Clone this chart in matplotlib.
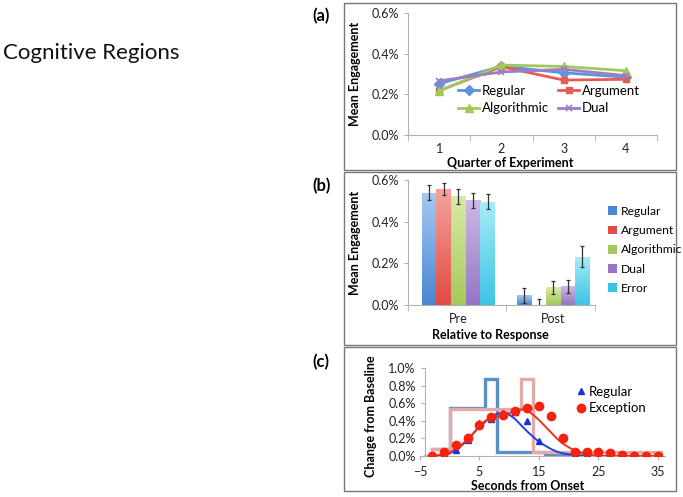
import numpy as np
import matplotlib
matplotlib.use("Agg")
import matplotlib.pyplot as plt
from matplotlib.patches import Rectangle, Patch
from matplotlib.colors import to_rgb

plt.rcParams['font.family'] = ['Lato', 'DejaVu Sans']

# ---- panel (a): mean engagement by quarter ----
quarters = [1, 2, 3, 4]
a_regular = [0.252, 0.338, 0.306, 0.284]
a_argument = [0.218, 0.336, 0.270, 0.274]
a_algorithmic = [0.216, 0.344, 0.337, 0.316]
a_dual = [0.266, 0.310, 0.323, 0.292]

# ---- panel (b): pre/post response ----
b_groups = ['Pre', 'Post']
b_names = ['Regular', 'Argument', 'Algorithmic', 'Dual', 'Error']
b_values = {
    'Regular': [0.539, 0.046],
    'Argument': [0.556, 0.0],
    'Algorithmic': [0.522, 0.086],
    'Dual': [0.503, 0.090],
    'Error': [0.496, 0.232],
}
b_errors = {
    'Regular': [0.036, 0.036],
    'Argument': [0.030, 0.028],
    'Algorithmic': [0.036, 0.031],
    'Dual': [0.036, 0.032],
    'Error': [0.037, 0.049],
}

# ---- panel (c): time course ----
c_x = [-3, -1, 1, 3, 5, 7, 9, 11, 13, 15, 17, 19, 21, 23, 25, 27, 29, 31, 33, 35]
c_regular = [0.0, 0.02, 0.07, 0.18, 0.37, 0.42, 0.49, 0.50, 0.40, 0.17, None, None,
             0.02, 0.02, 0.0, 0.0, None, None, None, None]
c_exception = [0.0, 0.04, 0.12, 0.21, 0.35, 0.44, 0.47, 0.51, 0.54, 0.57, 0.45, 0.21,
               0.05, 0.04, 0.04, 0.03, 0.01, 0.0, 0.0, 0.0]
fit_x = list(range(-3, 36))
fit_regular = [0.0, 0.0, 0.01, 0.03, 0.07, 0.12, 0.18, 0.26, 0.33, 0.39, 0.45, 0.48,
               0.49, 0.47, 0.42, 0.35, 0.28, 0.22, 0.16, 0.12, 0.08, 0.05, 0.03, 0.02,
               0.01, 0.0, 0.0, 0.0, 0.0, 0.0, 0.0, 0.0, 0.0, 0.0, 0.0, 0.0, 0.0, 0.0, 0.0]
fit_exception = [0.0, 0.01, 0.02, 0.04, 0.08, 0.13, 0.19, 0.26, 0.34, 0.40, 0.43, 0.45,
                 0.47, 0.49, 0.51, 0.53, 0.52, 0.47, 0.41, 0.34, 0.27, 0.20, 0.14, 0.10,
                 0.06, 0.04, 0.02, 0.01, 0.0, 0.0, 0.0, 0.0, 0.0, 0.0, 0.0, 0.0, 0.0, 0.0, 0.0]
step_reg_edges = [-3, 0, 6, 8, 16, 22]
step_reg_vals = [0.08, 0.55, 0.88, 0.05, 0.02]
step_exc_edges = [-3, 0, 12, 14, 35.5]
step_exc_vals = [0.08, 0.53, 0.88, 0.05]

W, H = 683, 497
fig = plt.figure(figsize=(W / 100, H / 100), dpi=100)

def fax(l, t, r, b):
    return fig.add_axes([l / W, 1 - b / H, (r - l) / W, (b - t) / H])

def pct(ax):
    ax.yaxis.set_major_formatter(matplotlib.ticker.FuncFormatter(lambda v, p: '%.1f%%' % v))

def style(ax):
    for s in ['top', 'right']:
        ax.spines[s].set_visible(False)
    for s in ['left', 'bottom']:
        ax.spines[s].set_color('#b0b0b0')
        ax.spines[s].set_linewidth(0.8)
    ax.tick_params(colors='#b0b0b0', labelcolor='#222222', labelsize=9, length=3, width=0.8)

fig.text(3 / W, 1 - 53 / H, 'Cognitive Regions', fontsize=16, va='center', ha='left', color='#111111')

# frames
for (t, b) in [(3, 170), (172, 345), (347, 491)]:
    fig.patches.append(Rectangle((344 / W, 1 - b / H), (676 - 344) / W, (b - t) / H,
                                 transform=fig.transFigure, fill=False, ec='#777777', lw=1.0))
for lab, y in [('(a)', 16), ('(b)', 186), ('(c)', 362)]:
    fig.text(312 / W, 1 - y / H, lab, fontsize=12, fontweight='bold', va='center', ha='left')

# ---- (a) ----
ax = fax(408, 13, 657, 135)
style(ax)
colors_a = ['#5d95d8', '#e35d56', '#a2c85a', '#9c7ec6']
l1, = ax.plot(quarters, a_regular, color=colors_a[0], marker='D', ms=5, lw=2, label='Regular')
l2, = ax.plot(quarters, a_argument, color=colors_a[1], marker='s', ms=5, lw=2, label='Argument')
l3, = ax.plot(quarters, a_algorithmic, color=colors_a[2], marker='^', ms=6, lw=2, label='Algorithmic')
l4, = ax.plot(quarters, a_dual, color=colors_a[3], marker='x', ms=5, mew=1.2, lw=2, label='Dual')
ax.set_xlim(0.5, 4.5)
ax.set_ylim(0, 0.6)
ax.set_yticks([0, 0.2, 0.4, 0.6])
pct(ax)
ax.set_xticks(quarters)
ax.set_xticks([0.5, 1.5, 2.5, 3.5, 4.5], minor=True)
ax.tick_params(axis='x', which='major', length=0, pad=6)
ax.tick_params(axis='x', which='minor', length=4, colors='#b0b0b0')
ax.set_xlabel('Quarter of Experiment', fontsize=9, fontweight='bold')
ax.xaxis.set_label_coords((510 - 408) / 249, -0.18)
ax.set_ylabel('Mean Engagement', fontsize=9, fontweight='bold')
ax.yaxis.set_label_coords((361 - 408) / 249, 0.5)
ax.legend(handles=[l1, l3, l2, l4], ncol=2, frameon=False, fontsize=9.5, handlelength=1.6,
          handletextpad=0.2, columnspacing=0.7, labelspacing=0.4, loc='center left',
          borderpad=0, borderaxespad=0, bbox_to_anchor=((458 - 408) / 249, 0.29))

# ---- (b) ----
ax = fax(408, 180, 595, 305)
style(ax)
bar_top = {'Regular': '#a4c9f2', 'Argument': '#f6a29c', 'Algorithmic': '#d8eaa6',
           'Dual': '#cdb9e6', 'Error': '#a8ecf8'}
bar_bot = {'Regular': '#4a86d2', 'Argument': '#e24a44', 'Algorithmic': '#a5c95a',
           'Dual': '#9675c4', 'Error': '#3cc4e4'}
bw = 0.154
xg = np.arange(len(b_groups))
handles = []
for i, name in enumerate(b_names):
    xs = xg + (i - 2) * bw
    bars = ax.bar(xs, b_values[name], width=bw, color=bar_bot[name], zorder=2)
    grad = np.linspace(0, 1, 64)[:, None]
    c1 = np.array(to_rgb(bar_bot[name]))
    c2 = np.array(to_rgb(bar_top[name]))
    img = c1[None, None, :] * (1 - grad[:, :, None]) + c2[None, None, :] * grad[:, :, None]
    for bar in bars:
        if bar.get_height() <= 0:
            continue
        im = ax.imshow(img, extent=[bar.get_x(), bar.get_x() + bw, 0, bar.get_height()],
                       origin='lower', aspect='auto', zorder=2.5)
        im.set_clip_path(bar)
    ax.errorbar(xs, b_values[name], yerr=b_errors[name], fmt='none', ecolor='#333333',
                elinewidth=0.9, capsize=1.5, capthick=0.9, zorder=3)
    handles.append(Patch(facecolor=bar_bot[name], label=name))
ax.set_xlim(-0.53, 1.44)
ax.set_ylim(0, 0.6)
ax.set_yticks([0, 0.2, 0.4, 0.6])
pct(ax)
ax.set_xticks(xg)
ax.set_xticklabels(b_groups)
ax.set_xticks([-0.53, 0.5, 1.44], minor=True)
ax.tick_params(axis='x', which='major', length=0, pad=6)
ax.tick_params(axis='x', which='minor', length=4, colors='#b0b0b0')
ax.set_xlabel('Relative to Response', fontsize=9, fontweight='bold')
ax.xaxis.set_label_coords((490 - 408) / 187, -0.19)
ax.set_ylabel('Mean Engagement', fontsize=9, fontweight='bold')
ax.yaxis.set_label_coords((361 - 408) / 187, 0.5)
fig.legend(handles=handles, loc='upper left', bbox_to_anchor=(608 / W, 1 - 206 / H),
           frameon=False, fontsize=8.7, handlelength=0.75, handleheight=0.75,
           handletextpad=0.35, labelspacing=0.68, borderpad=0, borderaxespad=0)

# ---- (c) ----
ax = fax(420, 368, 665, 456)
style(ax)
ax.spines['left'].set_position(('data', -4.2))
ax.stairs(step_reg_vals, step_reg_edges, color='#5b8ec6', lw=2.4, zorder=2)
ax.stairs(step_exc_vals, step_exc_edges, color='#e4aaa8', lw=2.4, zorder=2.2)
ax.plot([-4.2, -3], [0, 0], color='#e4aaa8', lw=2.4, zorder=2.2)
ax.plot(fit_x, fit_regular, color='#1f3fe0', lw=1.4, zorder=3)
ax.plot(fit_x, fit_exception, color='#f03020', lw=1.4, zorder=3.1)
ry = np.array([np.nan if v is None else v for v in c_regular], dtype=float)
ax.plot(c_x, ry, ls='none', marker='^', ms=5, color='#1a2fe0', zorder=4, label='Regular')
ax.plot(c_x, c_exception, ls='none', marker='o', ms=6, color='#f5220e', zorder=4.1,
        label='Exception')
ax.set_xlim(-5, 36.2)
ax.set_ylim(0, 1.0)
ax.set_yticks([0, 0.2, 0.4, 0.6, 0.8, 1.0])
pct(ax)
ax.set_xticks([-5, 5, 15, 25, 35])
ax.tick_params(axis='x', pad=4)
ax.set_xlabel('Seconds from Onset', fontsize=9, fontweight='bold')
ax.xaxis.set_label_coords((528 - 420) / 245, -0.27)
ax.set_ylabel('Change from Baseline', fontsize=9, fontweight='bold')
ax.yaxis.set_label_coords((377 - 420) / 245, 0.45)
ax.legend(loc='upper left', bbox_to_anchor=((577 - 420) / 245, 0.80), frameon=False,
          fontsize=9.5, handlelength=0.6, handletextpad=0.3, labelspacing=0.35,
          borderpad=0, borderaxespad=0)

fig.savefig('out.png', dpi=100)
